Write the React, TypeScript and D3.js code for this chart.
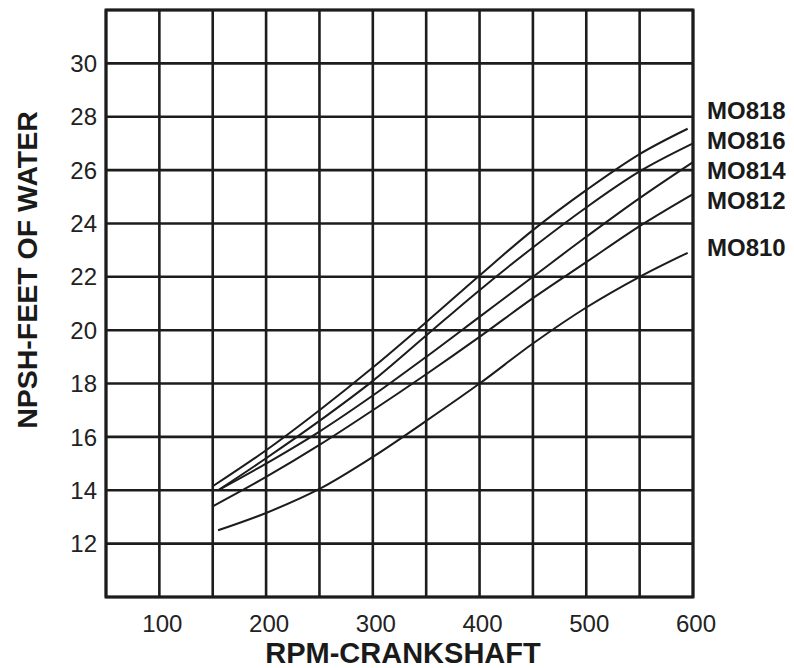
import React from "react";
import * as d3 from "d3";

const W = 794;
const H = 668;

const xDomain = [50, 600];
const yDomain = [10, 32];
const xGrid = [50, 100, 150, 200, 250, 300, 350, 400, 450, 500, 550, 600];
const yGrid = [10, 12, 14, 16, 18, 20, 22, 24, 26, 28, 30, 32];
const xTickLabels = [100, 200, 300, 400, 500, 600];
const yTickLabels = [12, 14, 16, 18, 20, 22, 24, 26, 28, 30];

const seriesNames = ["MO818", "MO816", "MO814", "MO812", "MO810"];
const rpm818 = [150, 200, 250, 300, 350, 400, 450, 500, 550, 595];
const npsh818 = [14.15, 15.5, 17.0, 18.6, 20.3, 22.05, 23.75, 25.25, 26.6, 27.55];
const rpm816 = [155, 200, 250, 300, 350, 400, 450, 500, 550, 600];
const npsh816 = [14.0, 15.2, 16.6, 18.1, 19.8, 21.5, 23.1, 24.6, 25.95, 27.0];
const rpm814 = [155, 200, 250, 300, 350, 400, 450, 500, 550, 600];
const npsh814 = [14.0, 15.0, 16.2, 17.55, 19.0, 20.5, 22.0, 23.5, 24.95, 26.3];
const rpm812 = [150, 200, 250, 300, 350, 400, 450, 500, 550, 600];
const npsh812 = [13.4, 14.5, 15.7, 17.0, 18.35, 19.75, 21.2, 22.55, 23.9, 25.1];
const rpm810 = [155, 200, 250, 300, 350, 400, 450, 500, 550, 595];
const npsh810 = [12.5, 13.15, 14.05, 15.25, 16.6, 18.0, 19.5, 20.85, 22.0, 22.9];
const labelY = [110, 140, 170, 200, 247];

export default function App() {
  const x = d3.scaleLinear().domain(xDomain).range([106, 693]);
  const y = d3.scaleLinear().domain(yDomain).range([597, 10]);
  const line = d3
    .line<[number, number]>()
    .x((d) => x(d[0]))
    .y((d) => y(d[1]))
    .curve(d3.curveCatmullRom.alpha(0.5));

  const rpms = [rpm818, rpm816, rpm814, rpm812, rpm810];
  const vals = [npsh818, npsh816, npsh814, npsh812, npsh810];
  const series = rpms.map((r, i) => r.map((v, j) => [v, vals[i][j]] as [number, number]));

  const ink = "#1c1c1c";
  const font = "'Liberation Sans', Arial, Helvetica, sans-serif";

  return (
    <svg
      width={W}
      height={H}
      style={{ position: "absolute", left: 0, top: 0, background: "#fff" }}
      fontFamily={font}
    >
      <rect x={0} y={0} width={W} height={H} fill="#fff" />
      {xGrid.map((g) => (
        <line key={"vx" + g} x1={x(g)} x2={x(g)} y1={y(32)} y2={y(10)} stroke={ink} strokeWidth={2.6} />
      ))}
      {yGrid.map((g) => (
        <line key={"hy" + g} x1={x(50)} x2={x(600)} y1={y(g)} y2={y(g)} stroke={ink} strokeWidth={2.6} />
      ))}
      <rect
        x={x(50)}
        y={y(32)}
        width={x(600) - x(50)}
        height={y(10) - y(32)}
        fill="none"
        stroke={ink}
        strokeWidth={3}
      />
      {series.map((s, i) => (
        <path key={seriesNames[i]} d={line(s) || ""} fill="none" stroke={ink} strokeWidth={2} />
      ))}
      {xTickLabels.map((t) => (
        <text key={"xt" + t} x={x(t) + 3} y={632} textAnchor="middle" fontSize={24} fill="#222">
          {t}
        </text>
      ))}
      {yTickLabels.map((t) => (
        <text
          key={"yt" + t}
          x={97}
          y={y(t)}
          dy="0.36em"
          textAnchor="end"
          fontSize={24}
          fill="#222"
        >
          {t}
        </text>
      ))}
      <text x={403} y={663} textAnchor="middle" fontSize={29} fontWeight="bold" fill="#1a1a1a">
        RPM-CRANKSHAFT
      </text>
      <text
        transform={`translate(37, 270) rotate(-90)`}
        textAnchor="middle"
        fontSize={28.5}
        fontWeight="bold"
        fill="#1a1a1a"
      >
        NPSH-FEET OF WATER
      </text>
      {seriesNames.map((n, i) => (
        <text key={"lbl" + n} x={707} y={labelY[i]} dy="0.36em" fontSize={24} fontWeight="bold" fill="#1a1a1a">
          {n}
        </text>
      ))}
    </svg>
  );
}
